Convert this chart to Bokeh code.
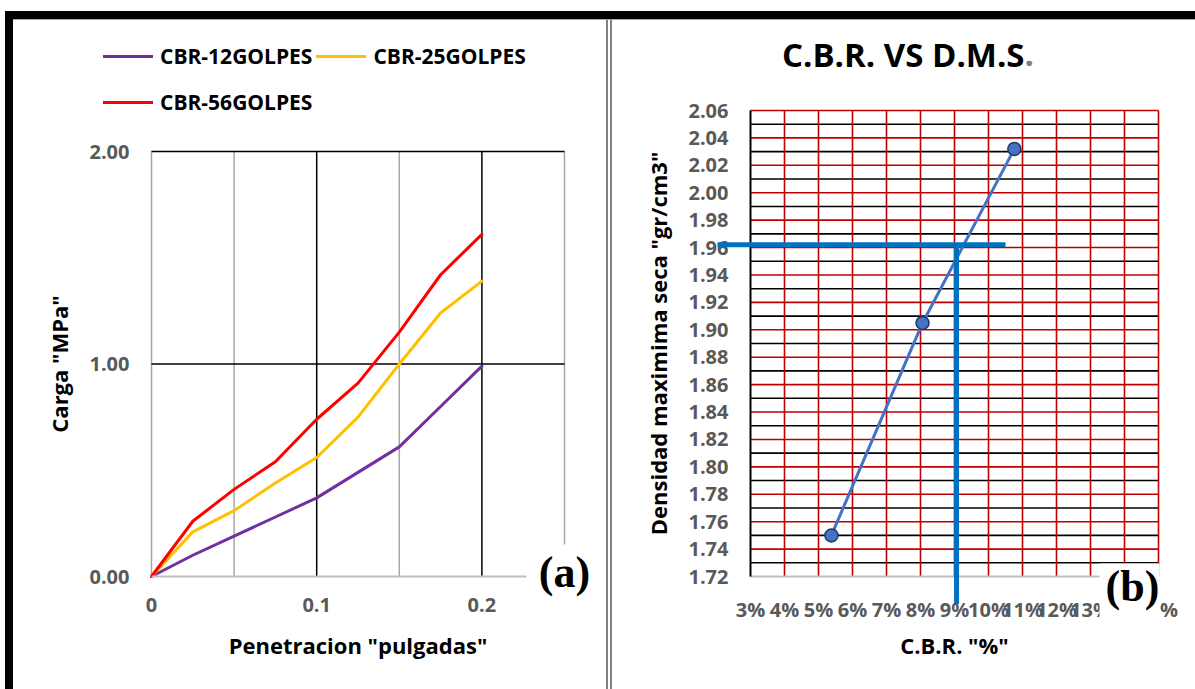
from bokeh.plotting import figure
from bokeh.models import (Range1d, FixedTicker, Legend, LegendItem, Label,
                          Arrow, BoxAnnotation, PrintfTickFormatter)
from bokeh.layouts import row
from bokeh.embed import file_html
from bokeh.resources import INLINE

FONT = "Open Sans"
SERIF = "Liberation Serif"
TICK_GREY = "#595959"

# ---------------- data: panel (a) ----------------
penetration = [0, 0.025, 0.05, 0.075, 0.1, 0.125, 0.15, 0.175, 0.2]
cbr_12 = [0, 0.10, 0.19, 0.28, 0.37, 0.49, 0.61, 0.80, 0.99]
cbr_25 = [0, 0.21, 0.31, 0.44, 0.56, 0.75, 1.00, 1.24, 1.39]
cbr_56 = [0, 0.26, 0.41, 0.54, 0.74, 0.91, 1.15, 1.42, 1.61]
series_names = ["CBR-12GOLPES", "CBR-25GOLPES", "CBR-56GOLPES"]
series_colors = ["#7030A0", "#FFC000", "#FF0000"]
pen_ticks = [0, 0.1, 0.2]
pen_tick_labels = ["0", "0.1", "0.2"]
pen_minor = [0, 0.05, 0.15, 0.25]
pen_major = [0.1, 0.2]
load_ticks = [0, 1, 2]
load_lines = [1, 2]
pen_lim = (0, 0.25)
load_lim = (0, 2)

# ---------------- data: panel (b) ----------------
cbr_pct = [0.0538, 0.0806, 0.1076]
dms = [1.750, 1.905, 2.032]
cbr_ticks = [0.03, 0.04, 0.05, 0.06, 0.07, 0.08, 0.09, 0.10, 0.11, 0.12, 0.13, 0.14, 0.15]
cbr_tick_labels = ["3%", "4%", "5%", "6%", "7%", "8%", "9%", "10%", "11%", "12%", "13%",
                   "", "\u00a0\u00a0\u00a0\u00a0%"]   # 14% / 15% hidden behind the (b) tag
dms_ticks = [1.72, 1.74, 1.76, 1.78, 1.80, 1.82, 1.84, 1.86, 1.88, 1.90,
             1.92, 1.94, 1.96, 1.98, 2.00, 2.02, 2.04, 2.06]
dms_red_lines = dms_ticks[1:]
dms_black_lines = [1.73, 1.75, 1.77, 1.79, 1.81, 1.83, 1.85, 1.87, 1.89, 1.91,
                   1.93, 1.95, 1.97, 1.99, 2.01, 2.03, 2.05]
cbr_red_lines = cbr_ticks[1:]
cbr_lim = (0.03, 0.15)
dms_lim = (1.72, 2.06)
ref_cbr = 0.0906
ref_dms = 1.962
ref_h_from, ref_h_to = 0.0203, 0.105
ref_v_to = 1.700

# ---------------- page geometry (pixels) ----------------
W1, W2, H = 608, 587, 689
# plot-area pixel corners (page coordinates) of each chart
A1 = dict(x0=151, x1=564, y0=576, y1=151)
A2 = dict(x0=750, x1=1158, y0=576, y1=110)


def ext_range(d0, d1, p0, p1, f0, f1):
    k = (d1 - d0) / (p1 - p0)
    return Range1d(d0 + (f0 - p0) * k, d0 + (f1 - p0) * k)


def make_fig(xr, yr, w):
    p = figure(width=w, height=H, title=None, min_border=0,
               min_border_left=0, min_border_right=0,
               min_border_top=0, min_border_bottom=0,
               x_range=xr, y_range=yr,
               output_backend="svg", toolbar_location=None)
    p.outline_line_color = None
    p.xgrid.visible = False
    p.ygrid.visible = False
    p.background_fill_color = None
    p.border_fill_color = None
    for ax in (p.xaxis[0], p.yaxis[0]):
        ax.major_tick_line_color = None
        ax.minor_tick_line_color = None
        ax.major_tick_out = 0
        ax.major_tick_in = 0
        ax.minor_tick_out = 0
        ax.minor_tick_in = 0
        ax.major_label_text_font = FONT
        ax.major_label_text_font_style = "bold"
        ax.major_label_text_font_size = "20px"
        ax.major_label_text_color = TICK_GREY
        ax.axis_label_text_font = FONT
        ax.axis_label_text_font_style = "bold"
        ax.axis_label_text_font_size = "22px"
        ax.axis_label_text_color = "black"
    p.xaxis.major_label_standoff = 21
    p.yaxis.major_label_standoff = 22
    p.xaxis.axis_label_standoff = 15
    p.yaxis.axis_label_standoff = 12
    return p


def box(p, l, r, t, b, color):
    p.add_layout(BoxAnnotation(left=l, right=r, top=t, bottom=b,
                               left_units="canvas", right_units="canvas",
                               top_units="canvas", bottom_units="canvas",
                               fill_color=color, fill_alpha=1.0,
                               line_color=None, line_alpha=0))


def vlines(p, xs, lim, color, width):
    p.segment(x0=xs, x1=xs, y0=[lim[0]] * len(xs), y1=[lim[1]] * len(xs),
              line_color=color, line_width=width)


def hlines(p, ys, lim, color, width):
    p.segment(x0=[lim[0]] * len(ys), x1=[lim[1]] * len(ys), y0=ys, y1=ys,
              line_color=color, line_width=width)


# ======================= panel (a) =======================
p1 = make_fig(ext_range(pen_lim[0], pen_lim[1], A1["x0"], A1["x1"], 0, W1),
              ext_range(load_lim[0], load_lim[1], A1["y0"], A1["y1"], H, 0), W1)
vlines(p1, pen_minor, load_lim, "#A6A6A6", 1.5)
vlines(p1, pen_major, load_lim, "black", 1.5)
hlines(p1, load_lines, pen_lim, "black", 1.5)

p1.xaxis.ticker = FixedTicker(ticks=pen_ticks)
p1.xaxis.major_label_overrides = dict(zip(pen_ticks, pen_tick_labels))
p1.xaxis.fixed_location = load_lim[0]
p1.xaxis.bounds = pen_lim
p1.xaxis.axis_line_color = "#BFBFBF"
p1.xaxis.axis_line_width = 2
p1.yaxis.ticker = FixedTicker(ticks=load_ticks)
p1.yaxis.formatter = PrintfTickFormatter(format="%.2f")
p1.yaxis.fixed_location = pen_lim[0]
p1.yaxis.bounds = load_lim
p1.yaxis.axis_line_color = None
p1.xaxis.axis_label = 'Penetracion "pulgadas"'
p1.yaxis.axis_label = 'Carga "MPa"'

rends = {}
for ys, name, col in zip([cbr_12, cbr_25, cbr_56], series_names, series_colors):
    rends[name] = p1.line(penetration, ys, line_color=col, line_width=3,
                          line_join="round", line_cap="round")
# column-major filling: 12 and 56 in the first column, 25 in the second
order = [series_names[0], series_names[2], series_names[1]]
legend = Legend(items=[LegendItem(label=n, renderers=[rends[n]]) for n in order],
                ncols=2, location=(103, H - 123),
                glyph_width=50, glyph_height=42, label_height=42,
                label_standoff=7, spacing=4, padding=0, margin=0,
                label_text_font=FONT, label_text_font_style="bold",
                label_text_font_size="21px", label_text_color="black",
                border_line_color=None, background_fill_alpha=0)
p1.add_layout(legend, "center")

box(p1, 526, 602, 544, 604, "white")
p1.add_layout(Label(x=564, y=H - 586 + 14, x_units="screen", y_units="screen",
                    text="(a)", text_font=SERIF, text_font_style="bold",
                    text_font_size="44px", text_align="center",
                    text_baseline="alphabetic", text_color="black"))

# ======================= panel (b) =======================
p2 = make_fig(ext_range(cbr_lim[0], cbr_lim[1], A2["x0"], A2["x1"], W1, W1 + W2),
              ext_range(dms_lim[0], dms_lim[1], A2["y0"], A2["y1"], H, 0), W2)
hlines(p2, dms_black_lines, cbr_lim, "black", 1.6)
hlines(p2, dms_red_lines, cbr_lim, "#C00000", 1.6)
vlines(p2, cbr_red_lines, dms_lim, "#C00000", 1.6)

p2.xaxis.ticker = FixedTicker(ticks=cbr_ticks)
p2.xaxis.major_label_overrides = dict(zip(cbr_ticks, cbr_tick_labels))
p2.xaxis.fixed_location = dms_lim[0]
p2.xaxis.bounds = cbr_lim
p2.xaxis.axis_line_color = "#BFBFBF"
p2.xaxis.axis_line_width = 2
p2.xaxis.major_label_standoff = 19
p2.xaxis.axis_label_standoff = 4
p2.yaxis.ticker = FixedTicker(ticks=dms_ticks)
p2.yaxis.formatter = PrintfTickFormatter(format="%.2f")
p2.yaxis.fixed_location = cbr_lim[0]
p2.yaxis.bounds = dms_lim
p2.yaxis.axis_line_color = "black"
p2.yaxis.axis_line_width = 2
p2.xaxis.axis_label = 'C.B.R. "%"'
p2.yaxis.axis_label = 'Densidad maximima seca "gr/cm3"'

p2.line(cbr_pct, dms, line_color="#4472C4", line_width=3)
p2.scatter(cbr_pct, dms, size=13, fill_color="#4472C4",
           line_color="#203864", line_width=1.5)

p2.add_layout(Arrow(x_start=ref_h_from, y_start=ref_dms, x_end=ref_h_to, y_end=ref_dms,
                    end=None, line_color="#0070C0", line_width=5))
p2.add_layout(Arrow(x_start=ref_cbr, y_start=ref_dms, x_end=ref_cbr, y_end=ref_v_to,
                    end=None, line_color="#0070C0", line_width=5))

# chart title (black text + grey final dot)
tx = 1024 - W1
ty = H - 67 + 13
p2.add_layout(Label(x=tx, y=ty, x_units="screen", y_units="screen",
                    text="C.B.R. VS D.M.S", text_font=FONT, text_font_style="bold",
                    text_font_size="33px", text_align="right",
                    text_baseline="alphabetic", text_color="black"))
p2.add_layout(Label(x=tx, y=ty, x_units="screen", y_units="screen",
                    text=".", text_font=FONT, text_font_style="bold",
                    text_font_size="33px", text_align="left",
                    text_baseline="alphabetic", text_color="#7F7F7F"))

box(p2, 1099 - W1, 1159 - W1, 563, 620, "white")
p2.add_layout(Label(x=1132 - W1, y=H - 600 + 14, x_units="screen", y_units="screen",
                    text="(b)", text_font=SERIF, text_font_style="bold",
                    text_font_size="44px", text_align="center",
                    text_baseline="alphabetic", text_color="black"))

# page frame lines drawn as CSS backgrounds of the row
bars = [("#000000", 1190, 8, 5, 11), ("#000000", 8, 678, 5, 11),
        ("#A6A6A6", 1182, 1, 13, 19),
        ("#7F7F7F", 2, 670, 606, 19), ("#7F7F7F", 2, 670, 610, 19)]
styles = {
    "background-image": ", ".join(f"linear-gradient({c}, {c})" for c, *_ in bars),
    "background-size": ", ".join(f"{w}px {h}px" for _, w, h, _x, _y in bars),
    "background-position": ", ".join(f"{x}px {y}px" for *_, x, y in bars),
    "background-repeat": "no-repeat",
    "background-color": "white",
}
layout = row(p1, p2, styles=styles)
open("out.html", "w").write(file_html(layout, INLINE))
